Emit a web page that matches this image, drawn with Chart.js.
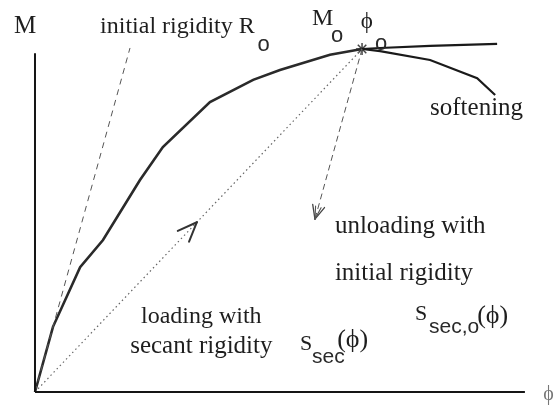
<!DOCTYPE html>
<html>
<head>
<meta charset="utf-8">
<script src="https://cdn.jsdelivr.net/npm/chart.js@4/dist/chart.umd.min.js"></script>
<style>
  html, body { margin: 0; padding: 0; background: #fff; }
  canvas { display: block; }
</style>
</head>
<body>
<canvas id="mphi" width="555" height="410"></canvas>
<script>
// Moment–rotation (M–ϕ) relation, normalised so the peak point (ϕo, Mo) = (1, 1)

// loading branch up to the peak
const loadingPhi = [0, 0.055, 0.138, 0.208, 0.321, 0.391, 0.535, 0.667, 0.749, 0.902, 1.0];
const loadingM   = [0, 0.190, 0.364, 0.443, 0.618, 0.714, 0.845, 0.910, 0.939, 0.983, 1.0];

// branch beyond the peak that keeps (almost) constant moment
const plateauPhi = [1.0, 1.055, 1.208, 1.413];
const plateauM   = [1.0, 1.003, 1.009, 1.015];

// softening branch beyond the peak
const softeningPhi = [1.0, 1.055, 1.208, 1.352, 1.407];
const softeningM   = [1.0, 0.994, 0.968, 0.915, 0.866];

// peak point (ϕo, Mo)
const peakPhi = [1.0];
const peakM   = [1.0];

// initial rigidity Ro drawn from the origin
const initialPhi = [0, 0.2905];
const initialM   = [0, 1.003];

// secant rigidity from the origin to the peak
const secantPhi = [0, 1.0];
const secantM   = [0, 1.0];

// unloading from the peak with the initial rigidity
const unloadPhi = [1.0, 0.856];
const unloadM   = [1.0, 0.504];

// coordinate axes
const axisPhi = [0, 1.498];
const axisM   = [0, 0.988];

const pts = (xs, ys) => xs.map((x, i) => ({ x, y: ys[i] }));

const ink = '#1e1e1e';
const serif = '"Liberation Serif", "DejaVu Serif", serif';
const sans = '"Liberation Sans", Arial, sans-serif';

// text placed in (ϕ, M) coordinates
const labels = [
  { t: 'M', x: -0.064, y: 1.047, f: '25px ' + serif },
  { t: 'initial rigidity R', x: 0.199, y: 1.047, f: '24px ' + serif },
  { t: 'o', x: 0.680, y: 0.995, f: '22px ' + sans, c: '#2a2a2a' },
  { t: 'M', x: 0.847, y: 1.070, f: '24px ' + serif },
  { t: 'o', x: 0.905, y: 1.020, f: '22px ' + sans, c: '#2a2a2a' },
  { t: 'ϕ', x: 0.996, y: 1.061, f: '23px ' + serif },
  { t: 'o', x: 1.040, y: 0.998, f: '22px ' + sans, c: '#2a2a2a' },
  { t: 'softening', x: 1.208, y: 0.808, f: '25px ' + serif },
  { t: 'unloading with', x: 0.917, y: 0.464, f: '25px ' + serif },
  { t: 'initial rigidity', x: 0.917, y: 0.327, f: '25px ' + serif },
  { t: 'S', x: 1.162, y: 0.210, f: '22px ' + serif },
  { t: 'sec,o', x: 1.205, y: 0.172, f: '21px ' + sans, c: '#2a2a2a' },
  { t: '(ϕ)', x: 1.352, y: 0.201, f: '26px ' + serif },
  { t: 'loading with', x: 0.324, y: 0.201, f: '24px ' + serif },
  { t: 'secant rigidity', x: 0.291, y: 0.114, f: '25px ' + serif },
  { t: 'S', x: 0.810, y: 0.122, f: '22px ' + serif },
  { t: 'sec', x: 0.847, y: 0.085, f: '21px ' + sans, c: '#2a2a2a' },
  { t: '(ϕ)', x: 0.924, y: 0.131, f: '26px ' + serif },
  { t: 'ϕ', x: 1.554, y: -0.023, f: '20px ' + serif, c: '#777' }
];

const textPlugin = {
  id: 'diagramText',
  afterDatasetsDraw(chart) {
    const { ctx, scales: { x, y } } = chart;
    ctx.save();
    ctx.textAlign = 'left';
    ctx.textBaseline = 'alphabetic';
    labels.forEach(l => {
      ctx.font = l.f;
      ctx.fillStyle = l.c || ink;
      ctx.fillText(l.t, x.getPixelForValue(l.x), y.getPixelForValue(l.y));
    });
    ctx.restore();
  }
};

// open arrowheads on the secant (at its middle) and at the end of the unloading line
function arrowHead(ctx, tipX, tipY, dirX, dirY, len, spread, width, color) {
  const a = Math.atan2(-dirY, -dirX);
  ctx.save();
  ctx.strokeStyle = color;
  ctx.lineWidth = width;
  ctx.lineCap = 'round';
  ctx.setLineDash([]);
  [-spread, spread].forEach(s => {
    ctx.beginPath();
    ctx.moveTo(tipX, tipY);
    ctx.lineTo(tipX + len * Math.cos(a + s), tipY + len * Math.sin(a + s));
    ctx.stroke();
  });
  ctx.restore();
}

const arrowPlugin = {
  id: 'arrows',
  afterDatasetsDraw(chart) {
    const { ctx, scales: { x, y } } = chart;
    // secant arrow at mid-length
    const sx0 = x.getPixelForValue(secantPhi[0]), sy0 = y.getPixelForValue(secantM[0]);
    const sx1 = x.getPixelForValue(secantPhi[1]), sy1 = y.getPixelForValue(secantM[1]);
    const tx = sx0 + (sx1 - sx0) * 0.495, ty = sy0 + (sy1 - sy0) * 0.495;
    arrowHead(ctx, tx, ty, sx1 - sx0, sy1 - sy0, 21, 0.38, 2, '#333');
    // unloading arrow at its end
    const ux0 = x.getPixelForValue(unloadPhi[0]), uy0 = y.getPixelForValue(unloadM[0]);
    const ux1 = x.getPixelForValue(unloadPhi[1]), uy1 = y.getPixelForValue(unloadM[1]);
    arrowHead(ctx, ux1, uy1, ux1 - ux0, uy1 - uy0, 15, 0.42, 1.3, '#444');
    arrowHead(ctx, ux1, uy1, ux1 - ux0, uy1 - uy0, 13, 0.22, 1.1, '#555');
  }
};

const line = (data, color, width, dash, extra) => Object.assign({
  data, showLine: true, fill: false, tension: 0,
  borderColor: color, borderWidth: width, borderDash: dash || [],
  pointRadius: 0, pointHoverRadius: 0
}, extra || {});

new Chart(document.getElementById('mphi'), {
  type: 'scatter',
  data: {
    datasets: [
      line(pts([0, 0], axisM), '#151515', 2),
      line(pts(axisPhi, [0, 0]), '#151515', 2),
      line(pts(initialPhi, initialM), '#555', 1, [6, 5]),
      line(pts(secantPhi, secantM), '#666', 1.2, [1.5, 3]),
      line(pts(unloadPhi, unloadM), '#555', 1, [6, 4]),
      line(pts(loadingPhi, loadingM), '#2a2a2a', 2.6),
      line(pts(plateauPhi, plateauM), '#1a1a1a', 2.2),
      line(pts(softeningPhi, softeningM), '#1a1a1a', 2.2),
      {
        data: pts(peakPhi, peakM), showLine: false,
        pointStyle: 'star', pointRadius: 6, pointBorderColor: '#444',
        pointBorderWidth: 1.5, pointBackgroundColor: '#444'
      }
    ]
  },
  options: {
    responsive: false,
    animation: false,
    layout: { padding: 0, autoPadding: false },
    plugins: { legend: { display: false }, tooltip: { enabled: false } },
    scales: {
      x: { type: 'linear', min: -0.107, max: 1.590, display: false },
      y: { type: 'linear', min: -0.0525, max: 1.1429, display: false }
    }
  },
  plugins: [textPlugin, arrowPlugin]
});
</script>
</body>
</html>
